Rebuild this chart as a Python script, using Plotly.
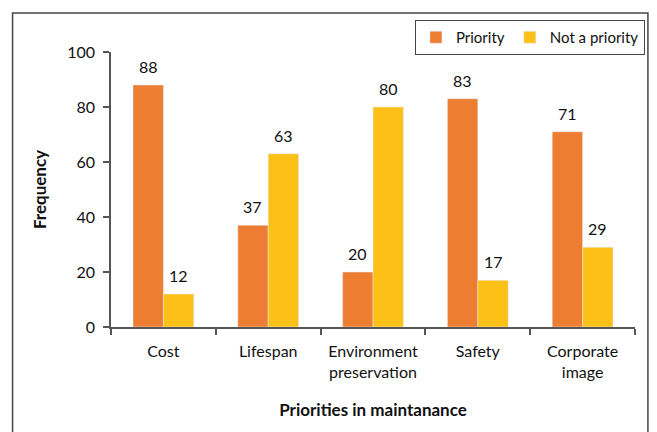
import plotly.graph_objects as go

categories = ["Cost", "Lifespan", "Environment<br>preservation", "Safety", "Corporate<br>image"]
priority = [88, 37, 20, 83, 71]
not_priority = [12, 63, 80, 17, 29]

W, H = 657, 432
L, R, T, B = 111, 19, 52, 105
pw, ph = W - L - R, H - T - B
BARGAP = 0.42

def px_x(x):
    return (x - L) / pw

def px_y(y):
    return (H - B - y) / ph

FONT = "Lato, 'Open Sans', sans-serif"

fig = go.Figure()
fig.add_trace(go.Bar(name="Priority", x=categories, y=priority, marker_color="#ED7D31"))
fig.add_trace(go.Bar(name="Not a priority", x=categories, y=not_priority, marker_color="#FCC016"))

# value labels above the bars
bar_w = pw / len(categories) * (1 - BARGAP) / 2
annotations = []
for series, shift in ((priority, -bar_w / 2), (not_priority, bar_w / 2)):
    for c, v in zip(categories, series):
        annotations.append(dict(x=c, y=v, xref="x", yref="y", text=str(v), showarrow=False,
                                xshift=shift, yshift=7, yanchor="bottom",
                                font=dict(size=16, color="#111")))

fig.update_layout(
    width=W, height=H,
    margin=dict(l=L, r=R, t=T, b=B),
    paper_bgcolor="white", plot_bgcolor="white",
    barmode="group", bargap=BARGAP, bargroupgap=0,
    font=dict(family=FONT, size=16, color="#111"),
    legend=dict(orientation="h", x=px_x(648), xanchor="right", y=px_y(20), yanchor="top",
                bordercolor="#444", borderwidth=1, font=dict(size=15),
                itemwidth=30, traceorder="normal"),
    xaxis=dict(showline=True, linecolor="#555", linewidth=1.5, ticks="outside", ticklen=6,
               tickcolor="#555", tickwidth=1.5, tickson="boundaries", showgrid=False,
               ticklabelstandoff=9,
               title=dict(text="<b>Priorities in maintanance</b>", font=dict(size=17), standoff=24)),
    yaxis=dict(range=[0, 100], dtick=20, showline=True, linecolor="#555", linewidth=1.5,
               ticks="outside", ticklen=6, tickcolor="#555", tickwidth=1.5, showgrid=False,
               zeroline=False, ticklabelstandoff=5,
               title=dict(text="<b>Frequency</b>", font=dict(size=17), standoff=16)),
    annotations=annotations,
    shapes=[dict(type="rect", xref="paper", yref="paper",
                 x0=px_x(12), x1=px_x(651), y0=px_y(445), y1=px_y(13),
                 line=dict(color="#444", width=1.5), fillcolor="rgba(0,0,0,0)", layer="below")],
)

fig.write_html("out.html")
